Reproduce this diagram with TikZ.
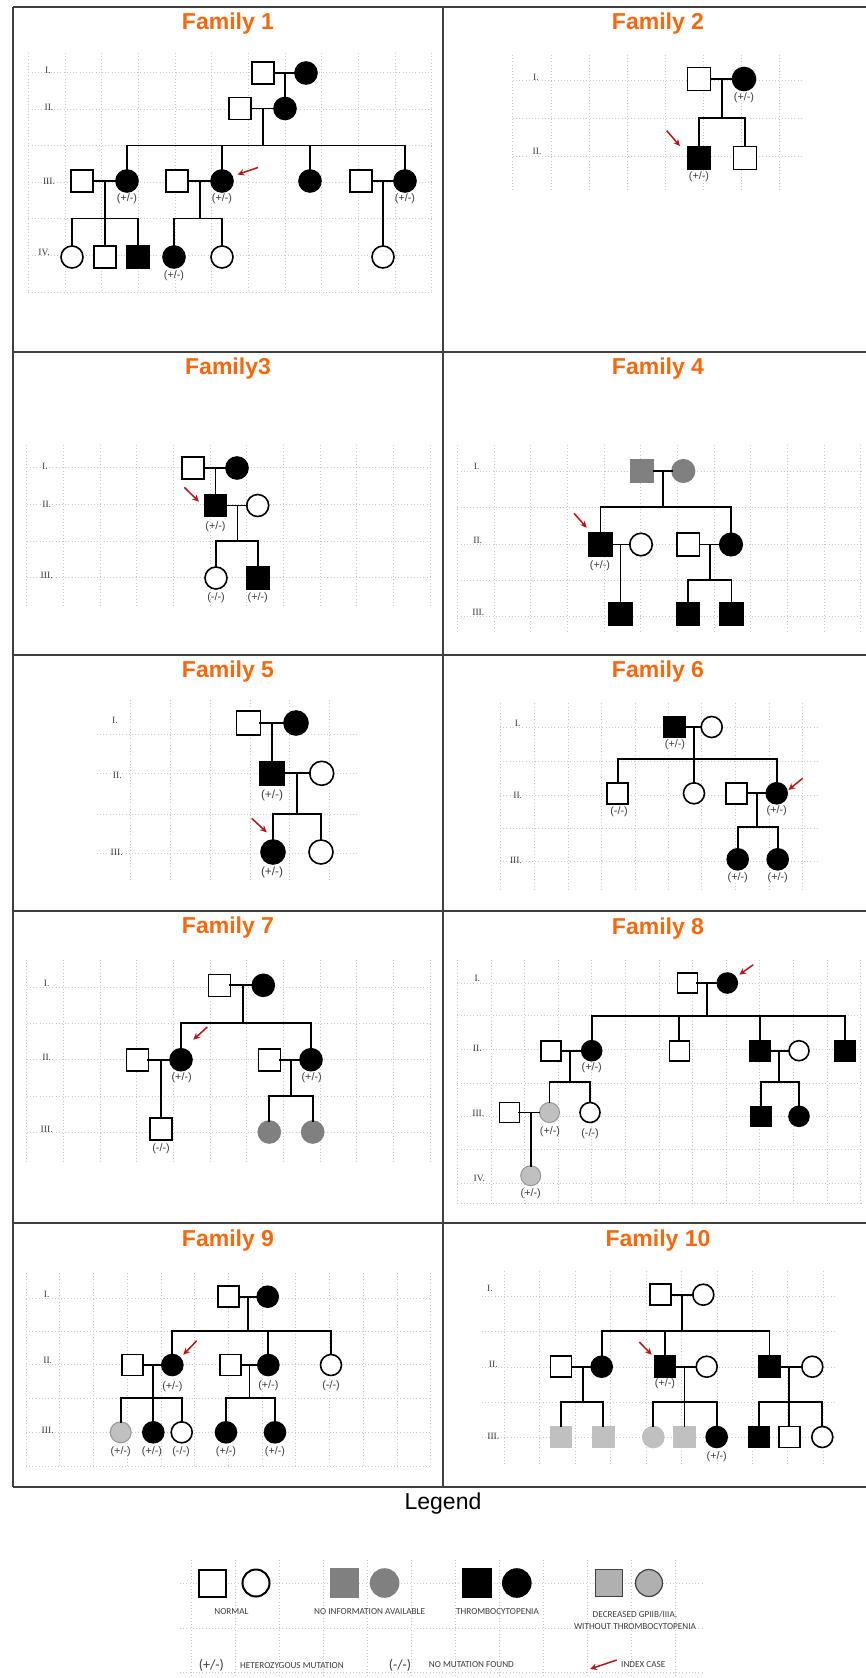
\documentclass[tikz,border=0pt]{standalone}
\usepackage{fontspec}
\setmainfont{Liberation Sans}
\newfontfamily\romfont{Liberation Serif}
\newfontfamily\legfont{Carlito}
\usetikzlibrary{arrows.meta}

\definecolor{ttlorange}{RGB}{250,102,10}
\definecolor{idxred}{RGB}{192,20,20}
\definecolor{nogray}{RGB}{128,128,128}
\definecolor{ltgray}{RGB}{192,192,192}
\definecolor{ltedge}{RGB}{150,150,150}
\definecolor{hatchgray}{RGB}{176,176,176}
\definecolor{frmgray}{RGB}{64,64,64}
\definecolor{gridc}{RGB}{200,200,200}
\definecolor{txtgray}{RGB}{60,60,60}

% dotted helper grid: vertical lines at #1, horizontal lines at #2,
% horizontals from x=#3 to #4, verticals from y=#5 to #6
\newcommand{\pedgrid}[6]{%
  \foreach \gx in {#1} {\draw[gridln] (\gx,#5) -- (\gx,#6);}
  \foreach \gy in {#2} {\draw[gridln] (#3,\gy) -- (#4,\gy);}
}
\def\pedsize{11pt}

\tikzset{
  gridln/.style={draw=gridc, line width=0.4pt, dash pattern=on 0.4pt off 1.2pt},
  ind/.style={inner sep=0pt, outer sep=0pt, minimum size=\pedsize, line width=0.8pt, draw=black, fill=white},
  pm/.style={ind, rectangle},
  pf/.style={ind, circle},
  pma/.style={pm, fill=black},
  pfa/.style={pf, fill=black},
  pmn/.style={pm, fill=nogray, draw=nogray},
  pfn/.style={pf, fill=nogray, draw=nogray},
  pmd/.style={pm, fill=ltgray, draw=ltgray},
  pfl/.style={pf, fill=ltgray, draw=ltgray},
  pfd/.style={pf, fill=ltgray, draw=ltedge, line width=0.5pt},
  pmh/.style={pm, fill=hatchgray, draw=black!75, line width=0.6pt},
  pfh/.style={pf, fill=hatchgray, draw=black!75, line width=0.6pt},
  lk/.style={line width=0.85pt, draw=black, line cap=rect},
  idx/.style={draw=idxred, line width=0.75pt, -{Stealth[length=3.4pt, width=3.2pt]}},
  ttl/.style={font=\fontsize{11.5}{13}\selectfont\bfseries, text=ttlorange, anchor=base, inner sep=0pt},
  gen/.style={font=\romfont\fontsize{4.8}{5.5}\selectfont, text=txtgray, inner sep=0pt},
  mut/.style={font=\fontsize{5.4}{6}\selectfont, text=txtgray, inner sep=0pt},
  legtxt/.style={font=\legfont\fontsize{4.6}{6}\selectfont, text=txtgray, inner sep=0pt, align=center},
  frm/.style={draw=frmgray, line width=1pt},
}

\begin{document}
\begin{tikzpicture}[x=0.5pt, y=-0.5pt]
\useasboundingbox (0,0) rectangle (866,1678);
\fill[white] (0,0) rectangle (866,1678);

% ---------------- panel frame ----------------
\foreach \fy in {7,352,655,911,1223,1487} {\draw[frm] (13,\fy) -- (866,\fy);}
\draw[frm] (13,7) -- (13,1487);
\draw[frm] (443,7) -- (443,1487);

% ================= Family 1 =================
\begin{scope}
\def\pedsize{11pt}
\node[ttl] (t1) at (228,29.3) {Family 1};
\pedgrid{28.3,65,101.6,138.3,175,211.6,248.3,285,321.6,358.3,395,431.7}{72.7,109.3,145.5,182,218.5,255,292.3}{28.3}{431.7}{53}{292.3}
\node[gen] (g1a) at (48,70) {I.};
\node[gen] (g1b) at (49,107) {II.};
\node[gen] (g1c) at (49,181) {III.};
\node[gen] (g1d) at (44,252) {IV.};
\node[pm] (a1) at (263,73) {};
\node[pfa] (a2) at (306,73) {};
\node[pm] (a3) at (240,108.5) {};
\node[pfa] (a4) at (285,108.5) {};
\node[pm] (a5) at (82,181) {};
\node[pfa] (a6) at (127,181) {};
\node[pm] (a7) at (177,181) {};
\node[pfa] (a8) at (222,181) {};
\node[pfa] (a9) at (310,181) {};
\node[pm] (a10) at (361,181) {};
\node[pfa] (a11) at (405,181) {};
\node[pf] (a12) at (72,257) {};
\node[pm] (a13) at (105,257) {};
\node[pma] (a14) at (138,257) {};
\node[pfa] (a15) at (174,257) {};
\node[pf] (a16) at (222,257) {};
\node[pf] (a17) at (383,257) {};
\node[mut] (a6l) at (127,198.5) {(+/-)};
\node[mut] (a8l) at (222,198.5) {(+/-)};
\node[mut] (a11l) at (405,198.5) {(+/-)};
\node[mut] (a15l) at (174,276) {(+/-)};
\coordinate (a1m) at (285,73);
\coordinate (a3m) at (263,108.5);
\coordinate (a3s) at (263,145.5);
\draw[lk] (a1) -- (a2);
\draw[lk] (a1m) -- (a4);
\draw[lk] (a3) -- (a4);
\draw[lk] (a3m) -- (a3s);
\draw[lk] (a6 |- a3s) -- (a11 |- a3s);
\foreach \c in {a6,a8,a9,a11} {\draw[lk] (\c |- a3s) -- (\c);}
\draw[lk] (a5) -- (a6);
\coordinate (a5m) at (105,181);
\coordinate (a5s) at (105,218.5);
\draw[lk] (a5m) -- (a13);
\draw[lk] (a12 |- a5s) -- (a14 |- a5s);
\foreach \c in {a12,a14} {\draw[lk] (\c |- a5s) -- (\c);}
\draw[lk] (a7) -- (a8);
\coordinate (a7m) at (200,181);
\coordinate (a7s) at (200,218.5);
\draw[lk] (a7m) -- (a7s);
\draw[lk] (a15 |- a7s) -- (a16 |- a7s);
\foreach \c in {a15,a16} {\draw[lk] (\c |- a7s) -- (\c);}
\draw[lk] (a10) -- (a11);
\coordinate (a10m) at (383,181);
\draw[lk] (a10m) -- (a17);
\coordinate (a8t) at (258,167.5);
\coordinate (a8h) at (237.5,174.5);
\draw[idx] (a8t) -- (a8h);
\end{scope}

% ================= Family 2 =================
\begin{scope}
\def\pedsize{11.5pt}
\node[ttl] (t2) at (658,29.3) {Family 2};
\pedgrid{512.7,551,589,627,665.7,703.3,741.3,779.3}{80,118,156}{512.7}{803}{55}{190.7}
\node[gen] (g2a) at (536,77) {I.};
\node[gen] (g2b) at (537,151) {II.};
\node[pm] (b1) at (699,79) {};
\node[pfa] (b2) at (744,79) {};
\node[pma] (b3) at (699,158) {};
\node[pm] (b4) at (745,158) {};
\node[mut] (b2l) at (744,97.5) {(+/-)};
\node[mut] (b3l) at (699,177) {(+/-)};
\coordinate (b1m) at (722,79);
\coordinate (b1s) at (722,118);
\draw[lk] (b1) -- (b2);
\draw[lk] (b1m) -- (b1s);
\draw[lk] (b3 |- b1s) -- (b4 |- b1s);
\foreach \c in {b3,b4} {\draw[lk] (\c |- b1s) -- (\c);}
\coordinate (b3t) at (666.7,130.7);
\coordinate (b3h) at (680,146);
\draw[idx] (b3t) -- (b3h);
\end{scope}

% ================= Family 3 =================
\begin{scope}
\def\pedsize{11pt}
\node[ttl] (t3) at (228,374) {Family3};
\pedgrid{26.7,63.4,100,136.7,173.4,210,246.7,283.4,320,356.7,393.4,430.1}{467.3,504.3,541,577.7}{26.7}{430.1}{445}{607.3}
\node[gen] (g3a) at (45,466.7) {I.};
\node[gen] (g3b) at (46.7,504) {II.};
\node[gen] (g3c) at (46.7,575.7) {III.};
\node[pm] (c1) at (192.7,468) {};
\node[pfa] (c2) at (237,468) {};
\node[pma] (c3) at (215.5,505.5) {};
\node[pf] (c4) at (257.7,505.5) {};
\node[pf] (c5) at (216,578) {};
\node[pma] (c6) at (257.7,578) {};
\node[mut] (c3l) at (215.5,527) {(+/-)};
\node[mut] (c5l) at (216,597.5) {(-/-)};
\node[mut] (c6l) at (257.7,597.5) {(+/-)};
\coordinate (c1m) at (215.5,468);
\draw[lk] (c1) -- (c2);
\draw[lk] (c1m) -- (c3);
\draw[lk] (c3) -- (c4);
\coordinate (c3m) at (237.5,505.5);
\coordinate (c3s) at (237.5,541);
\draw[lk] (c3m) -- (c3s);
\draw[lk] (c5 |- c3s) -- (c6 |- c3s);
\foreach \c in {c5,c6} {\draw[lk] (\c |- c3s) -- (\c);}
\coordinate (c3t) at (184.3,487.3);
\coordinate (c3h) at (199,501.7);
\draw[idx] (c3t) -- (c3h);
\end{scope}

% ================= Family 4 =================
\begin{scope}
\def\pedsize{11.25pt}
\node[ttl] (t4) at (658,374) {Family 4};
\pedgrid{457.3,494,530.6,567.3,604,640.6,677.3,714,750.6,787.3,824,860.6}{471,507.7,544.3,580,616.7}{457.3}{860.6}{445}{633.3}
\node[gen] (g4a) at (476.7,466.7) {I.};
\node[gen] (g4b) at (477.7,540) {II.};
\node[gen] (g4c) at (478.3,612.7) {III.};
\node[pmn] (d1) at (642.3,471) {};
\node[pfn] (d2) at (683.3,471) {};
\node[pma] (d3) at (600.5,544.5) {};
\node[pf] (d4) at (641,544.5) {};
\node[pm] (d5) at (688.3,544.5) {};
\node[pfa] (d6) at (731,544.5) {};
\node[pma] (d7) at (620.5,614) {};
\node[pma] (d8) at (688,614) {};
\node[pma] (d9) at (731.5,614) {};
\node[mut] (d3l) at (600,566) {(+/-)};
\coordinate (d1m) at (662.7,471);
\coordinate (d1s) at (662.7,507);
\draw[lk] (d1) -- (d2);
\draw[lk] (d1m) -- (d1s);
\draw[lk] (d3 |- d1s) -- (d6 |- d1s);
\foreach \c in {d3,d6} {\draw[lk] (\c |- d1s) -- (\c);}
\draw[lk] (d3) -- (d4);
\coordinate (d3m) at (620.5,544.5);
\draw[lk] (d3m) -- (d7);
\draw[lk] (d5) -- (d6);
\coordinate (d5m) at (710,544.5);
\coordinate (d5s) at (710,580);
\draw[lk] (d5m) -- (d5s);
\draw[lk] (d8 |- d5s) -- (d9 |- d5s);
\foreach \c in {d8,d9} {\draw[lk] (\c |- d5s) -- (\c);}
\coordinate (d3t) at (574,513.3);
\coordinate (d3h) at (586.7,527.7);
\draw[idx] (d3t) -- (d3h);
\end{scope}

% ================= Family 5 =================
\begin{scope}
\def\pedsize{12pt}
\node[ttl] (t5) at (228,677.7) {Family 5};
\pedgrid{130,170,210,250,289.3,329.3}{734.3,773.3,814,853.3}{96.7}{358.3}{700}{881.7}
\node[gen] (g5a) at (115,720) {I.};
\node[gen] (g5b) at (117.3,775) {II.};
\node[gen] (g5c) at (116.7,852.3) {III.};
\node[pm] (e1) at (248.3,723) {};
\node[pfa] (e2) at (296,723) {};
\node[pma] (e3) at (272,773.3) {};
\node[pf] (e4) at (321.7,773.3) {};
\node[pfa] (e5) at (273,852) {};
\node[pf] (e6) at (321,852) {};
\node[mut, font=\fontsize{5.9}{6.5}\selectfont] (e3l) at (272,795.7) {(+/-)};
\node[mut, font=\fontsize{5.9}{6.5}\selectfont] (e5l) at (272,872) {(+/-)};
\coordinate (e1m) at (272,723);
\draw[lk] (e1) -- (e2);
\draw[lk] (e1m) -- (e3);
\draw[lk] (e3) -- (e4);
\coordinate (e3m) at (296.7,773.3);
\coordinate (e3s) at (296.7,814);
\draw[lk] (e3m) -- (e3s);
\draw[lk] (e5 |- e3s) -- (e6 |- e3s);
\foreach \c in {e5,e6} {\draw[lk] (\c |- e3s) -- (\c);}
\coordinate (e5t) at (251.7,818.3);
\coordinate (e5h) at (266.7,832.3);
\draw[idx] (e5t) -- (e5h);
\end{scope}

% ================= Family 6 =================
\begin{scope}
\def\pedsize{10.5pt}
\node[ttl] (t6) at (658,677.7) {Family 6};
\pedgrid{500,534,568,601.7,635,668.3,701.7,735.7,769.3,802.7}{727.3,761,795,828.3,861.7}{500}{818.3}{703.3}{889.3}
\node[gen] (g6a) at (517.7,723.3) {I.};
\node[gen] (g6b) at (517.7,795) {II.};
\node[gen] (g6c) at (516,860.7) {III.};
\node[pma] (f1) at (674.3,727) {};
\node[pf] (f2) at (711.7,727) {};
\node[pm] (f3) at (617.7,793.3) {};
\node[pf] (f4) at (694,793.3) {};
\node[pm] (f5) at (736.7,793.3) {};
\node[pfa] (f6) at (776.7,793.3) {};
\node[pfa] (f7) at (737.7,859.3) {};
\node[pfa] (f8) at (777.7,859.3) {};
\node[mut] (f1l) at (675,745) {(+/-)};
\node[mut] (f3l) at (619,811.7) {(-/-)};
\node[mut] (f6l) at (776.7,811) {(+/-)};
\node[mut] (f7l) at (737.7,877.7) {(+/-)};
\node[mut] (f8l) at (777.7,877.7) {(+/-)};
\coordinate (f1m) at (694,727);
\coordinate (f1s) at (694,759);
\draw[lk] (f1) -- (f2);
\draw[lk] (f1m) -- (f4);
\draw[lk] (f3 |- f1s) -- (f6 |- f1s);
\foreach \c in {f3,f6} {\draw[lk] (\c |- f1s) -- (\c);}
\draw[lk] (f5) -- (f6);
\coordinate (f5m) at (756.7,793.3);
\coordinate (f5s) at (756.7,826.7);
\draw[lk] (f5m) -- (f5s);
\draw[lk] (f7 |- f5s) -- (f8 |- f5s);
\foreach \c in {f7,f8} {\draw[lk] (\c |- f5s) -- (\c);}
\coordinate (f6t) at (802.7,778.3);
\coordinate (f6h) at (788.3,790);
\draw[idx] (f6t) -- (f6h);
\end{scope}

% ================= Family 7 =================
\begin{scope}
\def\pedsize{11pt}
\node[ttl] (t7) at (228,933) {Family 7};
\pedgrid{26.7,63.4,100,136.7,173.4,210,246.7,283.4,320,356.7,393.4,430.1}{987,1023,1059.7,1096.3,1132.3}{26.7}{430.1}{959.7}{1163}
\node[gen] (g7a) at (46.7,983) {I.};
\node[gen] (g7b) at (46.7,1057.3) {II.};
\node[gen] (g7c) at (46.7,1129.7) {III.};
\node[pm] (g1) at (219.3,985.3) {};
\node[pfa] (g2) at (263.3,985.3) {};
\node[pm] (g3) at (137.3,1059.7) {};
\node[pfa] (g4) at (181,1059.7) {};
\node[pm] (g5) at (269.3,1059.7) {};
\node[pfa] (g6) at (311,1059.7) {};
\node[pm] (g7) at (161,1129) {};
\node[pfn] (g8) at (269.3,1132) {};
\node[pfn] (g9) at (312.7,1132) {};
\node[mut] (g4l) at (181.7,1077.3) {(+/-)};
\node[mut] (g6l) at (311.7,1077.3) {(+/-)};
\node[mut] (g7l) at (161,1148.7) {(-/-)};
\coordinate (g1m) at (242.7,985.3);
\coordinate (g1s) at (242.7,1023);
\draw[lk] (g1) -- (g2);
\draw[lk] (g1m) -- (g1s);
\draw[lk] (g4 |- g1s) -- (g6 |- g1s);
\foreach \c in {g4,g6} {\draw[lk] (\c |- g1s) -- (\c);}
\draw[lk] (g3) -- (g4);
\coordinate (g3m) at (161,1059.7);
\draw[lk] (g3m) -- (g7);
\draw[lk] (g5) -- (g6);
\coordinate (g5m) at (291,1059.7);
\coordinate (g5s) at (291,1096.3);
\draw[lk] (g5m) -- (g5s);
\draw[lk] (g8 |- g5s) -- (g9 |- g5s);
\foreach \c in {g8,g9} {\draw[lk] (\c |- g5s) -- (\c);}
\coordinate (g4t) at (207.3,1027);
\coordinate (g4h) at (193.3,1039.7);
\draw[idx] (g4t) -- (g4h);
\end{scope}

% ================= Family 8 =================
\begin{scope}
\def\pedsize{10pt}
\node[ttl] (t8) at (658,934) {Family 8};
\pedgrid{457.3,490.9,524.5,558.1,591.7,625.4,659,692.6,726.2,759.8,793.4,827,860.6}{983,1015.7,1049,1083,1116.3,1149.7,1183,1203}{457.3}{860.6}{959.7}{1203}
\node[gen] (g8a) at (477.3,978.7) {I.};
\node[gen] (g8b) at (477.3,1048) {II.};
\node[gen] (g8c) at (478.3,1113) {III.};
\node[gen] (g8d) at (479.3,1178.7) {IV.};
\node[pm] (h1) at (687.3,983) {};
\node[pfa] (h2) at (727.3,983) {};
\node[pm] (h3) at (550.7,1050.7) {};
\node[pfa] (h4) at (591.7,1050.7) {};
\node[pm] (h5) at (679.3,1050.7) {};
\node[pma] (h6) at (760,1050.7) {};
\node[pf] (h7) at (799,1050.7) {};
\node[pma] (h8) at (845,1050.7) {};
\node[pm] (h9) at (509.3,1112.5) {};
\node[pfd] (h10) at (549.5,1112.5) {};
\node[pf] (h11) at (590,1112.5) {};
\node[pma] (h12) at (760.7,1116.3) {};
\node[pfa] (h13) at (799,1116.3) {};
\node[pfd] (h14) at (530.7,1175.7) {};
\node[mut] (h4l) at (591.7,1067.3) {(+/-)};
\node[mut] (h10l) at (550,1132) {(+/-)};
\node[mut] (h11l) at (590,1133.7) {(-/-)};
\node[mut] (h14l) at (530.7,1193.7) {(+/-)};
\coordinate (h1m) at (707.3,983);
\coordinate (h1s) at (707.3,1015.7);
\draw[lk] (h1) -- (h2);
\draw[lk] (h1m) -- (h1s);
\draw[lk] (h4 |- h1s) -- (h8 |- h1s);
\foreach \c in {h4,h5,h6,h8} {\draw[lk] (\c |- h1s) -- (\c);}
\draw[lk] (h3) -- (h4);
\coordinate (h3m) at (570,1050.7);
\coordinate (h3s) at (570,1082.3);
\draw[lk] (h3m) -- (h3s);
\draw[lk] (h10 |- h3s) -- (h11 |- h3s);
\foreach \c in {h10,h11} {\draw[lk] (\c |- h3s) -- (\c);}
\draw[lk] (h9) -- (h10);
\coordinate (h9m) at (530.7,1112.5);
\draw[lk] (h9m) -- (h14);
\draw[lk] (h6) -- (h7);
\coordinate (h6m) at (779.3,1050.7);
\coordinate (h6s) at (779.3,1082.3);
\draw[lk] (h6m) -- (h6s);
\draw[lk] (h12 |- h6s) -- (h13 |- h6s);
\foreach \c in {h12,h13} {\draw[lk] (\c |- h6s) -- (\c);}
\coordinate (h2t) at (753.3,964.7);
\coordinate (h2h) at (739.3,974.7);
\draw[idx] (h2t) -- (h2h);
\end{scope}

% ================= Family 9 =================
\begin{scope}
\def\pedsize{10.5pt}
\node[ttl] (t9) at (228,1246.7) {Family 9};
\pedgrid{26,59.7,93.4,127.2,160.9,194.6,228.3,262,295.8,329.5,363.2,396.9,430.6}{1298,1331.3,1364.7,1398,1432.3,1466.3}{26}{430.6}{1273}{1466.3}
\node[gen] (g9a) at (46.7,1294) {I.};
\node[gen] (g9b) at (47.7,1360.7) {II.};
\node[gen] (g9c) at (47.7,1430.3) {III.};
\node[pm] (k1) at (228.3,1296.7) {};
\node[pfa] (k2) at (267.7,1296.7) {};
\node[pm] (k3) at (132.3,1365) {};
\node[pfa] (k4) at (172.3,1365) {};
\node[pm] (k5) at (230.7,1365) {};
\node[pfa] (k6) at (268.3,1365) {};
\node[pf] (k7) at (331,1365) {};
\node[pfd] (k8) at (120.7,1432.3) {};
\node[pfa] (k9) at (153.3,1432.3) {};
\node[pf] (k10) at (181.7,1432.3) {};
\node[pfa] (k11) at (226,1432.3) {};
\node[pfa] (k12) at (275,1432.3) {};
\node[mut] (k4l) at (172.3,1386.3) {(+/-)};
\node[mut] (k6l) at (268.3,1386) {(+/-)};
\node[mut] (k7l) at (331,1385.7) {(-/-)};
\node[mut] (k8l) at (120.7,1451.3) {(+/-)};
\node[mut] (k9l) at (152,1451.3) {(+/-)};
\node[mut] (k10l) at (181,1451.3) {(-/-)};
\node[mut] (k11l) at (226,1451.3) {(+/-)};
\node[mut] (k12l) at (275,1451.3) {(+/-)};
\coordinate (k1m) at (248.3,1296.7);
\coordinate (k1s) at (248.3,1331.3);
\draw[lk] (k1) -- (k2);
\draw[lk] (k1m) -- (k1s);
\draw[lk] (k4 |- k1s) -- (k7 |- k1s);
\foreach \c in {k4,k6,k7} {\draw[lk] (\c |- k1s) -- (\c);}
\draw[lk] (k3) -- (k4);
\coordinate (k3m) at (153.3,1365);
\coordinate (k3s) at (153.3,1398);
\draw[lk] (k3m) -- (k9);
\draw[lk] (k8 |- k3s) -- (k10 |- k3s);
\foreach \c in {k8,k10} {\draw[lk] (\c |- k3s) -- (\c);}
\draw[lk] (k5) -- (k6);
\coordinate (k5m) at (249.5,1365);
\coordinate (k5s) at (249.5,1398);
\draw[lk] (k5m) -- (k5s);
\draw[lk] (k11 |- k5s) -- (k12 |- k5s);
\foreach \c in {k11,k12} {\draw[lk] (\c |- k5s) -- (\c);}
\coordinate (k4t) at (196.7,1340.7);
\coordinate (k4h) at (183.3,1354.7);
\draw[idx] (k4t) -- (k4h);
\end{scope}

% ================= Family 10 =================
\begin{scope}
\def\pedsize{10.5pt}
\node[ttl] (t10) at (658,1246.7) {Family 10};
\pedgrid{504.3,539.7,575.2,610.6,646.1,681.5,716.9,752.4,787.8,823.3}{1296.3,1331.3,1367,1402,1437}{481.7}{835}{1271.3}{1463.7}
\node[gen] (g10a) at (490,1288.7) {I.};
\node[gen] (g10b) at (493.3,1364.7) {II.};
\node[gen] (g10c) at (493.3,1436.3) {III.};
\node[pm] (p1) at (660.7,1294.7) {};
\node[pf] (p2) at (703.3,1294.7) {};
\node[pm] (p3) at (561,1366.7) {};
\node[pfa] (p4) at (601.7,1366.7) {};
\node[pma] (p5) at (665,1366.7) {};
\node[pf] (p6) at (706.7,1366.7) {};
\node[pma] (p7) at (769.5,1366.7) {};
\node[pf] (p8) at (812.3,1366.7) {};
\node[pmd] (p9) at (561,1437) {};
\node[pmd] (p10) at (603.3,1437) {};
\node[pfl] (p11) at (653.3,1437) {};
\node[pmd] (p12) at (684.5,1437) {};
\node[pfa] (p13) at (716.7,1437) {};
\node[pma] (p14) at (759,1437) {};
\node[pm] (p15) at (789.3,1437) {};
\node[pf] (p16) at (822.3,1437) {};
\node[mut] (p5l) at (665,1383.7) {(+/-)};
\node[mut] (p13l) at (716.7,1456.3) {(+/-)};
\coordinate (p1m) at (682.3,1294.7);
\coordinate (p1s) at (682.3,1331.3);
\draw[lk] (p1) -- (p2);
\draw[lk] (p1m) -- (p1s);
\draw[lk] (p4 |- p1s) -- (p7 |- p1s);
\foreach \c in {p4,p5,p7} {\draw[lk] (\c |- p1s) -- (\c);}
\draw[lk] (p3) -- (p4);
\coordinate (p3m) at (582.7,1366.7);
\coordinate (p3s) at (582.7,1402);
\draw[lk] (p3m) -- (p3s);
\draw[lk] (p9 |- p3s) -- (p10 |- p3s);
\foreach \c in {p9,p10} {\draw[lk] (\c |- p3s) -- (\c);}
\draw[lk] (p5) -- (p6);
\coordinate (p5m) at (684.5,1366.7);
\coordinate (p5s) at (684.5,1402);
\draw[lk] (p5m) -- (p12);
\draw[lk] (p11 |- p5s) -- (p13 |- p5s);
\foreach \c in {p11,p13} {\draw[lk] (\c |- p5s) -- (\c);}
\draw[lk] (p7) -- (p8);
\coordinate (p7m) at (789.3,1366.7);
\coordinate (p7s) at (789.3,1402);
\draw[lk] (p7m) -- (p15);
\draw[lk] (p14 |- p7s) -- (p16 |- p7s);
\foreach \c in {p14,p16} {\draw[lk] (\c |- p7s) -- (\c);}
\coordinate (p5t) at (639.3,1342);
\coordinate (p5h) at (651.7,1354.7);
\draw[idx] (p5t) -- (p5h);
\end{scope}

% ================= Legend =================
\begin{scope}
\def\pedsize{13.5pt}
\node[font=\fontsize{11.5}{13}\selectfont, anchor=base, inner sep=0pt] (lgt) at (443,1509.3) {Legend};
\pedgrid{191,235,279,323,367,411,455,499,543,587,631,675}{1583.3,1628,1672}{180}{703}{1560}{1678}
\node[pm, line width=1pt] (q1) at (212.5,1583) {};
\node[pf, line width=1pt] (q2) at (256,1583) {};
\node[pmn, minimum size=14pt] (q3) at (344.6,1583) {};
\node[pfn, minimum size=14pt] (q4) at (384.6,1583) {};
\node[pma, minimum size=14pt] (q5) at (476.8,1583) {};
\node[pfa, minimum size=14pt] (q6) at (516.8,1583) {};
\node[pmh] (q7) at (609,1583) {};
\node[pfh] (q8) at (649,1583) {};
\node[legtxt] (q1l) at (231.4,1611.7) {NORMAL};
\node[legtxt] (q3l) at (369.6,1611.7) {NO INFORMATION AVAILABLE};
\node[legtxt] (q5l) at (497.5,1611.7) {THROMBOCYTOPENIA};
\node[legtxt] (q7l) at (635,1620) {DECREASED GPIIB/IIIA,\\WITHOUT THROMBOCYTOPENIA};
\node[legtxt, font=\legfont\fontsize{7}{8}\selectfont] (q9) at (211.4,1665) {(+/-)};
\node[legtxt] (q9l) at (292,1665.7) {HETEROZYGOUS MUTATION};
\node[legtxt, font=\legfont\fontsize{7}{8}\selectfont] (q10) at (400,1665) {(-/-)};
\node[legtxt] (q10l) at (471.4,1664.3) {NO MUTATION FOUND};
\coordinate (q11t) at (616.7,1660);
\coordinate (q11h) at (590,1669);
\draw[idx] (q11t) -- (q11h);
\node[legtxt] (q11l) at (643.3,1664.3) {INDEX CASE};
\end{scope}

\end{tikzpicture}
\end{document}
